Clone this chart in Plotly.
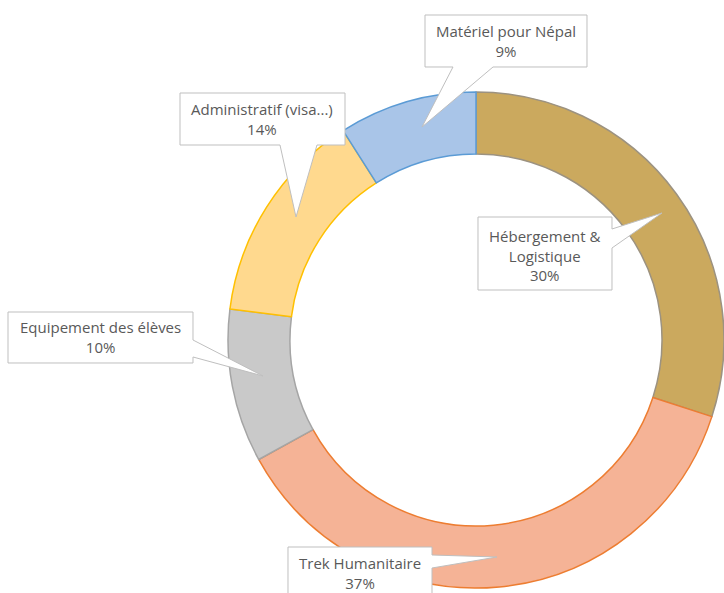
import plotly.graph_objects as go

# ---- data ----
labels = ["Hébergement & Logistique", "Trek Humanitaire", "Equipement des élèves",
          "Administratif (visa...)", "Matériel pour Népal"]
values = [30, 37, 10, 14, 9]
label_lines = ["Hébergement &<br>Logistique", "Trek Humanitaire", "Equipement des élèves",
               "Administratif (visa...)", "Matériel pour Népal"]

# ---- style ----
fill_colors = ["#CBA95E", "#F5B396", "#C9C9C9", "#FFD98E", "#A9C5E8"]
line_colors = ["#9C9280", "#ED7D31", "#A5A5A5", "#FFC000", "#5B9BD5"]

W, H = 724, 593


def px(x):
    return x / W


def py(y):
    return 1 - y / H


# donut placement (pixels)
cx, cy, R = 476, 340, 248

fig = go.Figure(go.Pie(
    labels=labels,
    values=values,
    hole=0.75,
    sort=False,
    direction="clockwise",
    rotation=0,
    textinfo="none",
    marker=dict(colors=fill_colors, line=dict(color=line_colors, width=1.5)),
    domain=dict(x=[px(cx - R), px(cx + R)], y=[py(cy + R), py(cy - R)]),
    showlegend=False,
    hoverinfo="label+percent",
))

# callout outlines (box + pointer), pixel coordinates
callouts = [
    [(478, 217), (612, 217), (612, 229), (662, 213), (612, 248), (612, 290), (478, 290)],
    [(288, 547), (432, 547), (432, 555), (497, 557), (432, 568), (432, 600), (288, 600)],
    [(8, 312), (193, 312), (193, 340), (263, 376), (193, 357), (193, 363), (8, 363)],
    [(180, 93), (345, 93), (345, 145), (317, 145), (296, 217), (280, 145), (180, 145)],
    [(425, 15), (587, 15), (587, 67), (493, 67), (422, 127), (453, 67), (425, 67)],
]
text_pos = [(545, 255), (360, 573), (100, 337), (262, 119), (506, 41)]

shapes = []
for poly in callouts:
    path = "M " + " L ".join(f"{px(x):.5f},{py(y):.5f}" for x, y in poly) + " Z"
    shapes.append(dict(type="path", xref="paper", yref="paper", path=path,
                       fillcolor="white", line=dict(color="#BFBFBF", width=1),
                       layer="above"))

annotations = []
for txt, v, (x, y) in zip(label_lines, values, text_pos):
    annotations.append(dict(
        text=f"{txt}<br>{v}%", x=px(x), y=py(y), xref="paper", yref="paper",
        xanchor="center", yanchor="middle", showarrow=False,
        font=dict(family="'Open Sans', sans-serif", size=15, color="#595959"),
    ))

fig.update_layout(
    width=W, height=H,
    margin=dict(l=0, r=0, t=0, b=0),
    paper_bgcolor="white", plot_bgcolor="white",
    shapes=shapes, annotations=annotations,
)

fig.write_html("out.html",
               config={"displayModeBar": False},
               post_script="document.body.style.margin='0';document.body.style.overflow='hidden';")
